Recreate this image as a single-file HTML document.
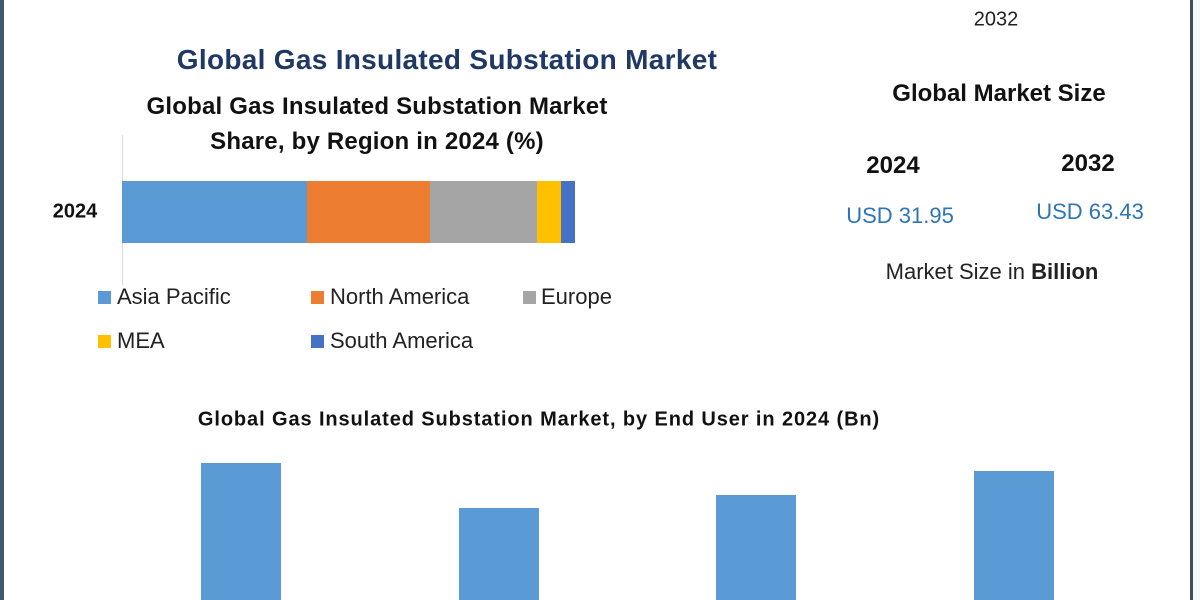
<!DOCTYPE html>
<html><head><style>
body{margin:0;width:1200px;height:600px;background:#fff;position:relative;overflow:hidden;font-family:"Liberation Sans",sans-serif;}
.t{position:absolute;white-space:nowrap;transform:translate(-50%,-50%);}
.b{position:absolute;}
.sq{position:absolute;width:13px;height:13px;}
.lg{position:absolute;font-size:22px;color:#222;transform:translateY(-50%);}
</style></head><body>
<div class="b" style="left:0;top:0;width:4px;height:600px;background:#3d5a70"></div>
<div class="b" style="left:1190px;top:0;width:3px;height:600px;background:#3d4e5a"></div>
<div class="b" style="left:1193px;top:0;width:7px;height:600px;background:#f2f8fb"></div>
<div class="t" style="left:996px;top:-8px;font-size:18px;color:#444">Market Size and Forecast to</div>
<div class="t" style="left:996px;top:20px;font-size:20px;color:#222">2032</div>
<div class="t" style="left:447px;top:60px;font-size:28px;font-weight:bold;color:#1f3864;letter-spacing:0.3px">Global Gas Insulated Substation Market</div>
<div class="t" style="left:377px;top:107px;font-size:24px;font-weight:bold;color:#111;letter-spacing:0.2px">Global Gas Insulated Substation Market</div>
<div class="t" style="left:377px;top:142px;font-size:24px;font-weight:bold;color:#111;letter-spacing:0.2px">Share, by Region in 2024 (%)</div>
<div class="b" style="left:122px;top:135px;width:1px;height:150px;background:#d9d9d9"></div>
<div class="t" style="left:75px;top:212px;font-size:20px;font-weight:bold;color:#111">2024</div>
<div class="b" style="left:122px;top:181px;width:185px;height:62px;background:#5b9bd5"></div>
<div class="b" style="left:307px;top:181px;width:123px;height:62px;background:#ed7d31"></div>
<div class="b" style="left:430px;top:181px;width:107px;height:62px;background:#a5a5a5"></div>
<div class="b" style="left:537px;top:181px;width:24px;height:62px;background:#ffc000"></div>
<div class="b" style="left:561px;top:181px;width:14px;height:62px;background:#4472c4"></div>
<div class="sq" style="left:98px;top:291px;background:#5b9bd5"></div><div class="lg" style="left:117px;top:297px">Asia Pacific</div>
<div class="sq" style="left:311px;top:291px;background:#ed7d31"></div><div class="lg" style="left:330px;top:297px">North America</div>
<div class="sq" style="left:523px;top:291px;background:#a5a5a5"></div><div class="lg" style="left:541px;top:297px">Europe</div>
<div class="sq" style="left:98px;top:335px;background:#ffc000"></div><div class="lg" style="left:117px;top:341px">MEA</div>
<div class="sq" style="left:311px;top:335px;background:#4472c4"></div><div class="lg" style="left:330px;top:341px">South America</div>
<div class="t" style="left:999px;top:94px;font-size:24px;font-weight:bold;color:#111">Global Market Size</div>
<div class="t" style="left:893px;top:166px;font-size:24px;font-weight:bold;color:#111">2024</div>
<div class="t" style="left:1088px;top:164px;font-size:24px;font-weight:bold;color:#111">2032</div>
<div class="t" style="left:900px;top:216px;font-size:22px;color:#2e75b6">USD 31.95</div>
<div class="t" style="left:1090px;top:212px;font-size:22px;color:#2e75b6">USD 63.43</div>
<div class="t" style="left:992px;top:272px;font-size:22px;color:#222">Market Size in <b>Billion</b></div>
<div class="t" style="left:539px;top:420px;font-size:20px;font-weight:bold;color:#111;letter-spacing:0.9px">Global Gas Insulated Substation Market, by End User in 2024 (Bn)</div>
<div class="b" style="left:201px;top:463px;width:80px;height:137px;background:#5b9bd5"></div>
<div class="b" style="left:459px;top:508px;width:80px;height:92px;background:#5b9bd5"></div>
<div class="b" style="left:716px;top:495px;width:80px;height:105px;background:#5b9bd5"></div>
<div class="b" style="left:974px;top:471px;width:80px;height:129px;background:#5b9bd5"></div>
</body></html>
